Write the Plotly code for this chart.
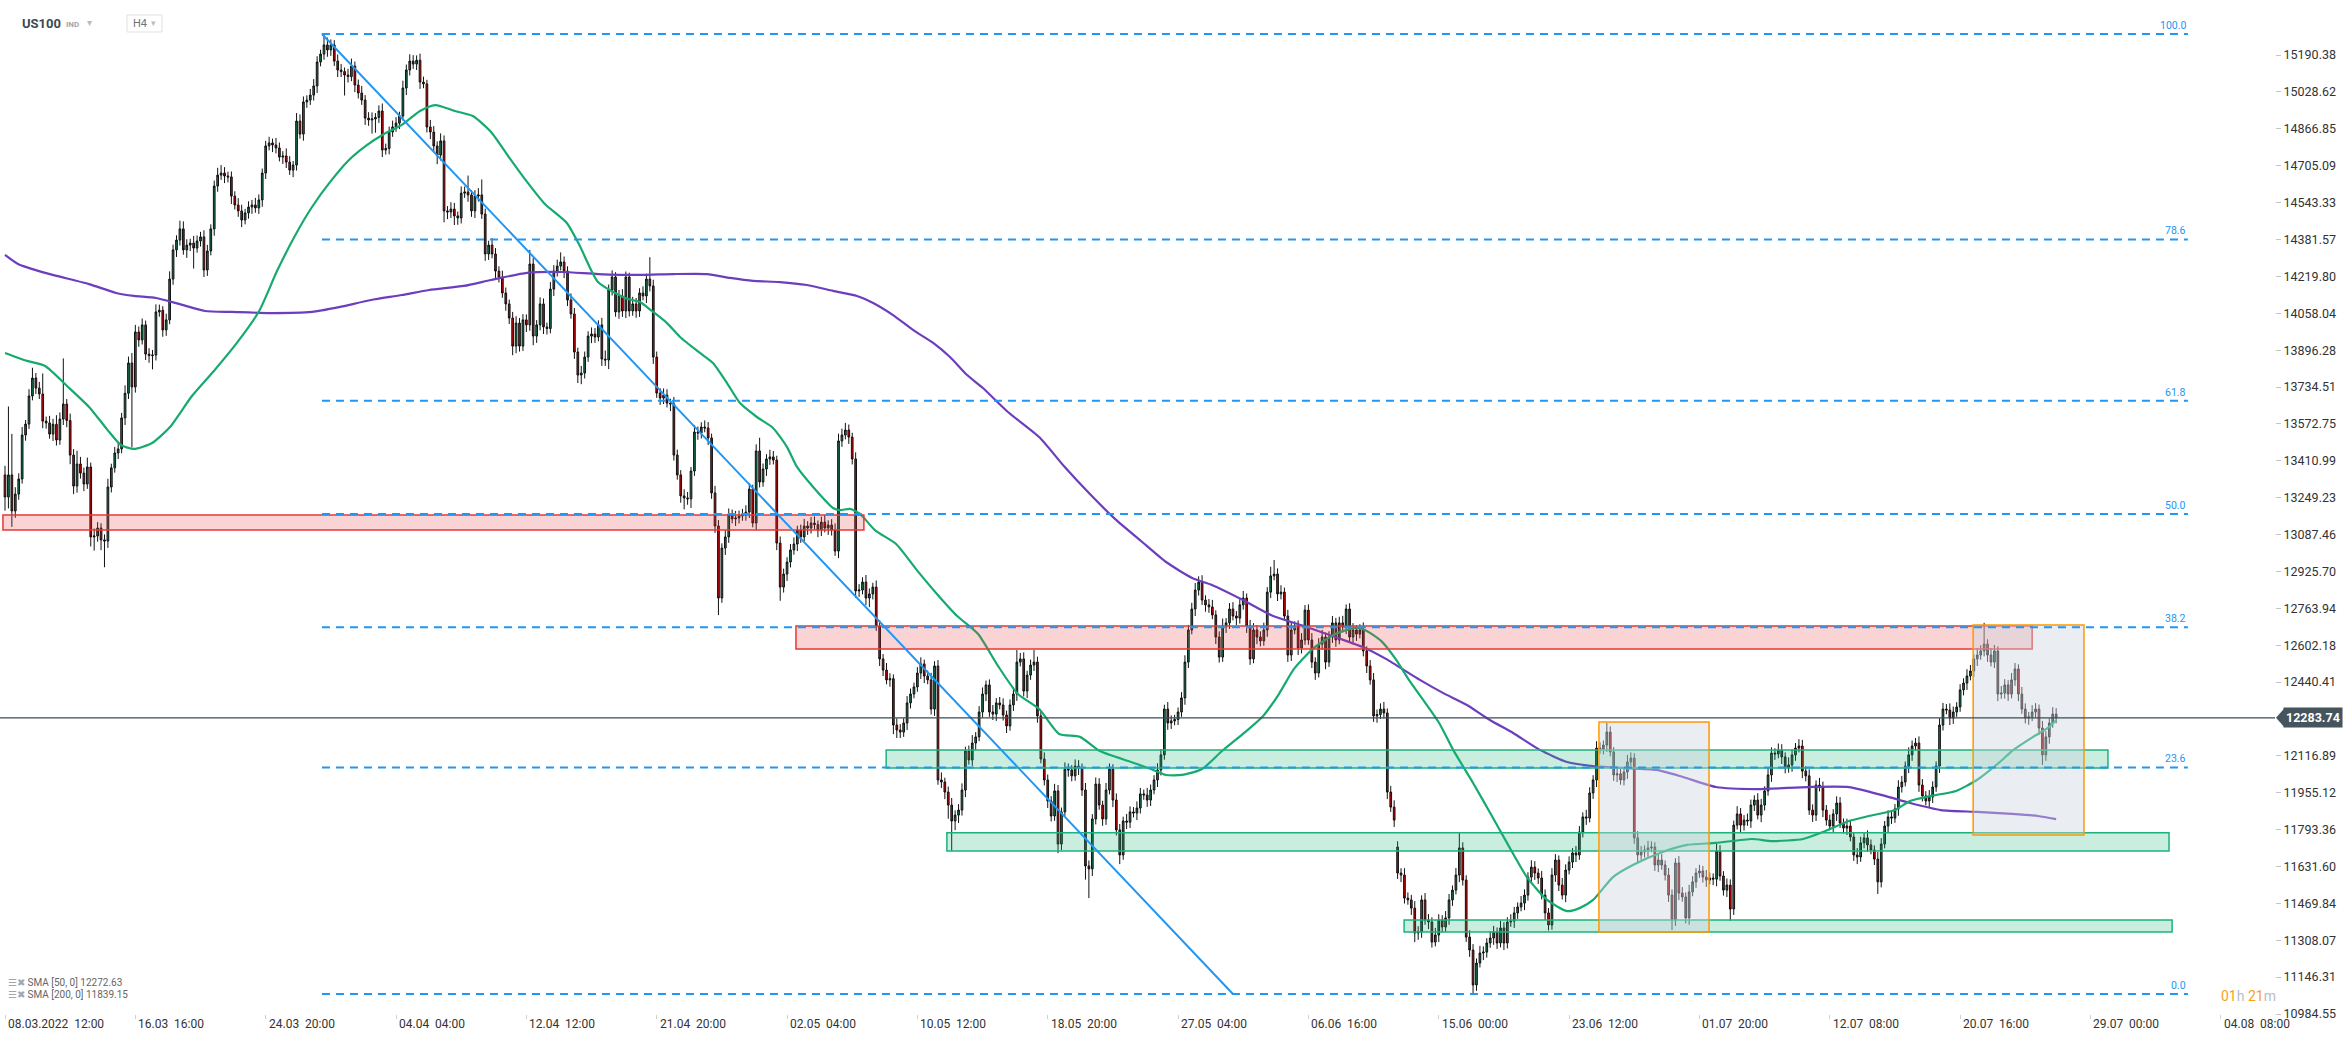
import plotly.graph_objects as go

# ---------------- data ----------------
# H4 closes, one per bar (bar 0 = 08.03.2022 12:00)
closes = [
    13252,13349,13191,13265,13331,13524,13572,13695,13774,13730,13704,13585,13577,13528,13571,13502,13594,13660,13588,13436,13300,13397,13357,13309,13384,13077,13081,13116,13064,13059,13296,13380,13445,13463,13599,13707,13840,13735,
    13976,13941,14007,13879,13872,13875,14064,14071,13985,14029,14208,14336,14379,14428,14336,14357,14366,14344,14375,14393,14248,14331,14428,14616,14664,14673,14660,14656,14572,14533,14507,14467,14498,14524,14533,14520,14555,14673,
    14792,14805,14796,14783,14743,14748,14721,14686,14708,14901,14844,14985,14993,15015,15055,15160,15195,15235,15213,15235,15164,15125,15118,15103,15096,15142,15059,15024,14993,14914,14906,14910,14917,14945,14774,14781,14853,14875,
    14892,14923,15046,15125,15164,15151,15168,15072,15064,14875,14853,14792,14752,14814,14507,14502,14515,14485,14476,14585,14590,14577,14507,14572,14577,14493,14318,14357,14318,14243,14217,14147,14099,14037,13914,14015,13914,14029,
    14007,14274,13958,14007,14099,13998,13991,14164,14243,14265,14283,14243,14116,14055,13888,13787,13796,13866,13958,13967,13954,14007,13857,13853,14160,14217,14064,14134,14068,14217,14068,14099,14068,14147,14134,14208,14178,13866,
    13708,13686,13699,13664,13660,13436,13349,13257,13248,13244,13366,13537,13533,13559,13555,13511,13270,13125,12809,13028,13077,13178,13156,13160,13169,13178,13186,13287,13138,13454,13318,13375,13419,13428,13414,13050,12857,12914,
    12967,13020,13046,13107,13077,13125,13116,13138,13131,13107,13142,13116,13129,13107,13015,13498,13524,13546,13515,13419,12840,12844,12879,12809,12827,12857,12686,12542,12493,12450,12455,12252,12230,12221,12261,12349,12388,12419,
    12480,12520,12467,12450,12322,12511,12011,12002,11958,11901,11831,11857,11879,11967,12138,12099,12173,12200,12309,12388,12428,12309,12300,12349,12340,12296,12248,12340,12388,12528,12542,12401,12471,12515,12528,12292,12103,12011,
    11919,11853,11963,11730,11871,12059,12055,12029,12072,12064,11967,11634,11621,11840,11993,11901,11840,11967,12059,11923,11792,11682,11831,11826,11871,11866,11888,11950,11945,11923,11967,12011,12055,12121,12322,12261,12270,12276,
    12309,12371,12528,12669,12761,12844,12879,12800,12779,12770,12735,12638,12550,12686,12700,12761,12730,12721,12779,12809,12686,12542,12669,12638,12621,12669,12835,12906,12914,12827,12835,12730,12559,12669,12686,12590,12625,12756,
    12625,12528,12480,12607,12638,12528,12638,12700,12625,12700,12682,12761,12638,12669,12651,12669,12577,12511,12450,12292,12298,12322,12305,11958,11892,11835,11603,11594,11493,11485,11449,11340,11345,11485,11397,11388,11300,11331,
    11397,11366,11406,11485,11528,11594,11713,11572,11322,11265,11112,11208,11252,11256,11296,11318,11344,11296,11362,11296,11388,11392,11428,11454,11471,11506,11585,11629,11603,11581,11506,11428,11375,11594,11660,11550,11506,11616,
    11651,11691,11682,11783,11849,11844,11954,12011,12151,12147,12164,12221,12134,12033,12038,12011,12046,12090,12107,11757,11682,11695,11704,11713,11717,11638,11660,11638,11594,11506,11397,11647,11515,11498,11406,11520,11564,11603,
    11612,11585,11572,11581,11576,11699,11590,11528,11550,11445,11813,11862,11813,11835,11831,11901,11923,11857,11901,11963,12033,12129,12125,12142,12112,12064,12077,12121,12151,12160,12050,12029,11879,11857,11989,11980,11879,11835,
    11809,11862,11910,11822,11800,11809,11761,11682,11673,11735,11757,11726,11704,11664,11564,11730,11809,11849,11844,11884,11980,12002,12072,12121,12160,12173,11989,11941,11919,11936,11980,12072,12252,12322,12318,12283,12309,12331,
    12406,12436,12467,12489,12542,12559,12577,12607,12559,12528,12577,12388,12392,12428,12388,12450,12498,12388,12322,12283,12288,12309,12322,12239,12121,12200,12261,12300,12283.74,
]
# upper / lower wick lengths (points beyond the body)
wick_up = [
    40,300,180,30,25,35,18,30,45,22,27,90,20,31,24,40,29,200,22,30,26,58,31,24,41,19,33,26,21,24,36,18,27,30,22,35,28,44,
    31,24,28,19,26,22,33,25,18,27,34,23,21,36,33,26,19,31,24,22,29,27,20,24,32,35,26,19,24,21,30,27,18,25,22,31,24,20,
    22,27,19,31,24,21,33,26,18,35,29,24,21,27,30,25,19,48,32,24,21,29,26,18,27,33,20,24,31,22,26,29,19,25,33,21,24,28,
    26,19,32,24,30,26,21,29,24,18,31,26,20,33,24,21,30,27,19,29,24,72,21,26,30,68,24,19,31,26,21,28,24,19,27,30,22,25,
    24,62,26,21,29,24,19,31,26,28,42,24,21,29,26,19,31,24,21,29,26,20,31,38,24,29,21,26,30,24,19,31,26,21,29,24,96,27,
    24,21,29,26,19,31,24,21,29,26,18,31,24,21,29,26,19,31,26,21,29,24,19,31,24,22,30,26,19,29,58,24,21,31,26,19,29,24,
    21,26,29,19,24,31,21,26,29,18,24,31,21,26,29,32,28,31,24,19,29,26,21,31,24,19,29,26,21,31,24,19,29,26,21,30,24,19,
    26,29,19,24,31,21,26,33,19,24,31,21,26,29,19,24,35,21,26,29,19,24,31,21,26,29,19,24,31,53,26,29,19,24,53,24,21,29,
    24,21,31,26,19,29,24,21,29,26,19,31,24,21,29,26,19,31,24,21,29,26,19,31,24,21,29,26,19,31,24,21,29,26,19,31,24,21,
    20,25,30,22,27,31,25,30,21,26,31,20,25,33,21,26,30,22,25,31,20,27,30,21,25,32,22,40,62,25,30,20,27,33,21,25,30,22,
    25,30,21,26,31,20,25,30,22,27,31,20,25,30,21,25,33,20,26,30,22,25,31,20,27,30,25,21,30,25,22,31,25,20,30,26,21,31,
    25,21,30,26,20,31,65,25,21,30,26,20,31,25,21,30,27,20,31,25,21,30,26,20,31,25,21,30,26,20,31,25,21,30,26,20,31,25,
    25,21,30,26,20,31,25,21,30,26,20,40,25,21,30,26,20,31,25,21,30,26,20,31,25,21,30,26,20,31,25,21,30,26,20,31,25,21,
    27,22,31,24,20,33,26,21,29,25,20,34,26,22,29,24,21,30,27,20,32,25,21,29,26,20,33,24,22,30,27,21,29,25,20,31,24,22,
    24,21,29,26,20,32,25,22,30,27,21,33,24,20,31,26,22,29,25,21,30,27,20,33,24,22,29,26,21,31,25,20,30,27,22,29,24,21,
    25,21,30,26,20,31,25,93,21,30,26,20,31,25,21,30,26,20,31,25,21,30,26,20,31,25,21,30,26,
]
wick_dn = [
    60,50,70,30,25,20,25,21,19,26,22,31,25,20,30,24,21,26,30,40,35,29,24,31,21,42,60,25,45,115,30,24,21,26,19,31,25,265,
    25,30,20,26,31,60,24,21,30,26,19,25,31,24,21,35,26,90,20,24,31,26,19,30,25,21,31,24,35,20,26,31,19,25,30,21,26,30,
    26,20,31,24,19,30,26,21,31,24,20,29,26,21,24,31,19,25,30,26,21,31,24,90,26,20,31,24,21,30,26,60,60,24,31,20,26,21,
    21,26,19,31,24,21,26,30,19,24,31,26,40,24,50,31,26,40,30,24,21,30,26,31,24,21,30,26,19,31,24,21,30,26,40,31,24,21,
    31,26,40,30,24,31,26,21,30,24,19,31,26,21,30,35,40,24,21,31,26,19,30,26,40,24,21,30,26,31,24,21,30,26,19,31,24,30,
    21,30,26,19,31,24,21,30,50,26,40,21,30,24,19,31,26,30,75,21,30,26,19,31,24,21,30,26,19,31,24,21,30,26,19,31,60,24,
    30,24,21,31,26,19,30,24,21,31,26,19,30,24,21,31,26,19,30,24,30,26,19,31,40,24,21,31,26,19,30,40,35,26,21,31,24,19,
    21,26,31,19,24,30,21,26,31,60,130,40,35,24,31,21,26,30,19,24,31,21,26,30,19,24,31,21,26,30,19,24,31,21,26,30,19,24,
    31,24,21,40,26,19,30,24,21,31,26,60,128,31,24,21,30,26,19,31,24,40,21,30,26,19,31,24,21,30,26,19,31,24,21,30,26,19,
    24,21,30,26,19,31,24,21,30,26,19,31,24,21,30,26,19,31,24,21,30,26,19,31,24,21,30,26,19,31,24,21,30,26,19,31,24,21,
    21,26,30,19,24,31,21,26,30,19,24,31,21,26,30,19,24,31,21,26,30,19,24,31,21,30,26,31,24,21,30,40,30,26,21,31,24,19,
    31,24,21,30,26,19,31,24,21,30,40,26,19,31,24,21,30,26,19,31,24,21,30,26,19,31,24,21,30,26,19,31,24,21,30,26,19,31,
    19,26,31,21,24,30,19,26,31,21,24,30,19,26,31,21,24,30,19,26,31,21,24,30,19,26,31,21,24,30,44,26,31,21,24,30,19,26,
    21,24,30,19,26,31,21,24,30,52,26,19,31,24,21,30,26,19,31,24,21,30,26,19,31,24,21,30,26,19,31,24,21,30,26,19,31,24,
    19,26,31,21,24,30,19,26,31,21,24,30,19,26,53,24,19,31,26,21,30,24,19,31,26,21,30,24,19,31,26,21,30,24,19,31,26,21,
    21,24,30,19,26,31,21,24,30,19,26,31,21,24,30,19,26,31,21,24,30,19,26,31,44,26,30,21,24,
]
first_open = 13349
gap_opens = {406: 11717}

# SMA lines (bar position, value)
sma50_bar = [0,6.4,11.7,18.1,24.5,29.7,33.8,37.6,42.9,48.1,54.5,60.9,67.6,74.1,79.3,84.5,89.5,94.8,100,105.2,
             110.5,115.7,121,125.4,131.2,136.4,141.7,146.9,152.2,157.4,163.8,167.6,172.9,180.8,185.1,188.6,193,196.8,202.6,206.4,
             210.5,214.3,219.2,223.9,228,230.9,235.6,241.4,243.4,246.4,249.3,253.6,259.8,265.6,271.7,277.6,283.7,289.5,295.3,301.5,
             307.3,313.4,319.2,328.3,334.1,338.5,343.1,349,354.8,360.9,366.8,371.4,375.8,381.6,387.8,393.6,396.5,401.2,405.4,409.3,
             418.1,422.2,428,433,437.9,443.7,449.6,455.4,459.2,463,468.8,474.6,482.5,490.4,498.8,509.3,515.2,524.2,530,537.6,
             543.4,551,555.4,561.5,568.8,574.9,581.6,585.1,591.3,595.6,598]
sma50_val = [13884,13849,13827,13739,13647,13550,13480,13463,13489,13559,13695,13805,13928,14068,14243,14397,14524,14634,14726,14792,
             14844,14884,14945,14971,14945,14923,14853,14743,14634,14537,14454,14353,14195,14125,14107,14068,14015,13954,13884,13840,
             13752,13664,13603,13555,13471,13384,13296,13204,13195,13200,13178,13107,13046,12936,12827,12730,12651,12511,12388,12322,
             12213,12200,12138,12090,12059,12033,12033,12059,12138,12213,12292,12388,12498,12590,12651,12678,12669,12621,12542,12450,
             12261,12143,11998,11866,11735,11585,11485,11436,11450,11485,11585,11638,11691,11726,11735,11752,11743,11752,11783,11831,
             11853,11879,11919,11941,11963,12011,12090,12138,12200,12239,12272.63]
sma200_bar = [0,3.8,11.7,24.5,32.4,37.6,44,50.7,58.3,66.2,76.7,89.5,97.4,106.7,115.7,123.6,133.8,141.7,152.2,162.4,
              172.9,185.1,194.8,204.7,211.4,218.1,225.9,233.8,241.4,248.4,253.1,258.9,264.7,270.6,275.5,280.5,285.1,292.4,301.5,308.7,
              316.3,323.6,331.2,338.5,346.1,351.9,360.9,369.7,378.7,387.8,396.5,402.6,412.5,419.2,426.2,432.9,439.7,447.5,455.4,462.9,
              471.6,481.5,489.2,498.8,510.8,525.7,537.6,548.1,555.4,564.4,574.9,585.1,592.7,598]
sma200_val = [14314,14274,14235,14186,14147,14134,14125,14099,14068,14064,14059,14064,14085,14116,14138,14160,14178,14204,14235,14239,
              14230,14226,14230,14230,14213,14200,14195,14182,14156,14134,14103,14050,13985,13928,13866,13787,13730,13625,13515,13388,
              13265,13156,13059,12967,12897,12866,12800,12730,12686,12638,12590,12542,12450,12393,12340,12274,12217,12143,12090,12072,
              12064,12055,12024,11980,11971,11980,11980,11941,11910,11879,11871,11862,11853,11839.15]

tick_bars = [0, 38, 76, 114, 152, 190, 228, 266, 304, 342, 380, 418, 456, 494, 532, 570, 608, 646]
tick_labels = ["08.03.2022  12:00", "16.03  16:00", "24.03  20:00", "04.04  04:00", "12.04  12:00",
               "21.04  20:00", "02.05  04:00", "10.05  12:00", "18.05  20:00", "27.05  04:00",
               "06.06  16:00", "15.06  00:00", "23.06  12:00", "01.07  20:00", "12.07  08:00",
               "20.07  16:00", "29.07  00:00", "04.08  08:00"]
y_ticks = [15190.38, 15028.62, 14866.85, 14705.09, 14543.33, 14381.57, 14219.80, 14058.04, 13896.28,
           13734.51, 13572.75, 13410.99, 13249.23, 13087.46, 12925.70, 12763.94, 12602.18, 12440.41,
           12116.89, 11955.12, 11793.36, 11631.60, 11469.84, 11308.07, 11146.31, 10984.55]

last_price = 12283.74
sma50_last = 12272.63
sma200_last = 11839.15

fib_high = 15283
fib_low = 11072
fib_levels = [100.0, 78.6, 61.8, 50.0, 38.2, 23.6, 0.0]
fib_bar_start = 92.4
fib_bar_end = 636.4
trend_from = (92.4, 15283)
trend_to = (358.0, 11072)

# zones: kind, bar from, bar to, price low, price high
zones = [
    ("red", -0.6, 250.4, 13107, 13173),
    ("red", 230.6, 591.0, 12585, 12686),
    ("green", 256.9, 613.1, 12064, 12143),
    ("green", 274.6, 630.9, 11699, 11779),
    ("green", 407.9, 631.8, 11344, 11397),
    ("grey", 464.7, 496.8, 11344, 12265),
    ("grey", 573.8, 606.1, 11770, 12691),
]

# ---------------- build ----------------
n = len(closes)
bars = list(range(n))
opens, highs, lows = [], [], []
for i, c in enumerate(closes):
    if i == 0:
        o = first_open
    elif i in gap_opens:
        o = gap_opens[i]
    else:
        o = closes[i - 1]
    wu = wick_up[i] if i < len(wick_up) else 20
    wd = wick_dn[i] if i < len(wick_dn) else 20
    opens.append(o)
    highs.append(max(o, c) + wu)
    lows.append(min(o, c) - wd)

W, H = 2346, 1039
ML, MR, MT, MB = 0, 71, 0, 25
PW, PH = W - ML - MR, H - MT - MB
X_RANGE = [-1.458, 661.8]
Y_RANGE = [10984.55, 15432.0]
FONT = "Roboto, 'Open Sans', sans-serif"


def px(x):
    return x / PW


def py(y):
    return 1 - y / PH


fig = go.Figure()
fig.add_trace(go.Candlestick(
    x=bars, open=opens, high=highs, low=lows, close=closes,
    increasing=dict(line=dict(color="#111111", width=1), fillcolor="#107a52"),
    decreasing=dict(line=dict(color="#111111", width=1), fillcolor="#d40000"),
    whiskerwidth=0, hoverinfo="skip", showlegend=False,
))
fig.add_trace(go.Scatter(x=sma200_bar, y=sma200_val, mode="lines",
                         line=dict(color="#6c3ebe", width=2.2, shape="spline", smoothing=0.6),
                         hoverinfo="skip", showlegend=False))
fig.add_trace(go.Scatter(x=sma50_bar, y=sma50_val, mode="lines",
                         line=dict(color="#16aa6e", width=2.2, shape="spline", smoothing=0.6),
                         hoverinfo="skip", showlegend=False))

shapes = []
annotations = []

zone_style = {
    "red": dict(fill="rgba(235,70,70,0.23)", line="#e53935"),
    "green": dict(fill="rgba(30,180,120,0.24)", line="#1bb37b"),
    "grey": dict(fill="rgba(205,212,222,0.42)", line="#ff9800"),
}
for kind, b0, b1, p0, p1 in zones:
    st = zone_style[kind]
    shapes.append(dict(type="rect", xref="x", yref="y", x0=b0, x1=b1, y0=p0, y1=p1,
                       fillcolor=st["fill"], line=dict(color=st["line"], width=1.5), layer="above"))

for lv in fib_levels:
    price = fib_low + (fib_high - fib_low) * lv / 100.0
    shapes.append(dict(type="line", xref="x", yref="y", x0=fib_bar_start, x1=fib_bar_end, y0=price, y1=price,
                       line=dict(color="#2196f3", width=2, dash="8px,6px"), layer="above"))
    annotations.append(dict(x=fib_bar_end, y=price, xref="x", yref="y", text=f"{lv:.1f}", showarrow=False,
                            xanchor="right", yanchor="bottom", yshift=0,
                            font=dict(family=FONT, size=10.5, color="#2196f3")))

shapes.append(dict(type="line", xref="x", yref="y", x0=trend_from[0], y0=trend_from[1], x1=trend_to[0], y1=trend_to[1],
                   line=dict(color="#2196f3", width=2), layer="above"))

# current price line and label
shapes.append(dict(type="line", xref="paper", yref="y", x0=0, x1=1, y0=last_price, y1=last_price,
                   line=dict(color="#3d4b55", width=1.2), layer="above"))
lp_paper = (last_price - Y_RANGE[0]) / (Y_RANGE[1] - Y_RANGE[0])
shapes.append(dict(type="path", xref="paper", yref="paper", xsizemode="pixel", ysizemode="pixel",
                   xanchor=1.0, yanchor=lp_paper, path="M 1,0 L 9,9 L 9,-9 Z",
                   fillcolor="#46545e", line=dict(width=0), layer="above"))
annotations.append(dict(x=1, y=last_price, xref="paper", yref="y", xanchor="left", xshift=8,
                        text=f"<b>{last_price:.2f}</b>", showarrow=False, bgcolor="#46545e", borderpad=2,
                        font=dict(family=FONT, size=12.5, color="white")))

# x labels
for b, lab in zip(tick_bars, tick_labels):
    annotations.append(dict(x=b, y=0, xref="x", yref="paper", xanchor="left", yanchor="top", xshift=1, yshift=-1,
                            text=lab.replace("  ", " \u00a0"), showarrow=False,
                            font=dict(family=FONT, size=12, color="#333333")))

# header
annotations += [
    dict(x=px(20), y=py(23), xref="paper", yref="paper", xanchor="left", yanchor="middle", text="<b>US100</b>",
         showarrow=False, font=dict(family=FONT, size=13, color="#3d4852")),
    dict(x=px(64), y=py(24), xref="paper", yref="paper", xanchor="left", yanchor="middle", text="<b>IND</b>",
         showarrow=False, font=dict(family=FONT, size=8, color="#a0a6ad")),
    dict(x=px(85), y=py(22), xref="paper", yref="paper", xanchor="left", yanchor="middle", text="▾",
         showarrow=False, font=dict(family="DejaVu Sans", size=10, color="#b8bcc0")),
    dict(x=px(131), y=py(23), xref="paper", yref="paper", xanchor="left", yanchor="middle", text="H4",
         showarrow=False, font=dict(family=FONT, size=11, color="#6b747c")),
    dict(x=px(149), y=py(23), xref="paper", yref="paper", xanchor="left", yanchor="middle", text="▾",
         showarrow=False, font=dict(family="DejaVu Sans", size=9, color="#b8bcc0")),
]
shapes.append(dict(type="rect", xref="paper", yref="paper", x0=px(127), x1=px(162), y0=py(15), y1=py(32),
                   line=dict(color="#dde1e5", width=1), fillcolor="rgba(255,255,255,0)", layer="above"))

# indicator legend
for row, (per, val) in enumerate([(50, sma50_last), (200, sma200_last)]):
    annotations.append(dict(x=px(6), y=py(982 + 12 * row), xref="paper", yref="paper", xanchor="left",
                            yanchor="middle", showarrow=False,
                            text=f"<span style='color:#a2a7ad'>☰✖</span> SMA [{per}, 0] {val:.2f}",
                            font=dict(family=FONT, size=10, color="#666666")))

# countdown
annotations.append(dict(x=px(2219), y=py(996), xref="paper", yref="paper", xanchor="left", yanchor="middle",
                        showarrow=False,
                        text="<span style='color:#f7a21b'>01</span><span style='color:#b9bec4'>h</span> "
                             "<span style='color:#f7a21b'>21</span><span style='color:#b9bec4'>m</span>",
                        font=dict(family=FONT, size=14)))

fig.update_layout(
    width=W, height=H, margin=dict(l=ML, r=MR, t=MT, b=MB),
    plot_bgcolor="white", paper_bgcolor="white", showlegend=False, hovermode=False,
    font=dict(family=FONT, size=12, color="#333333"),
    shapes=shapes, annotations=annotations,
    xaxis=dict(range=X_RANGE, showgrid=False, zeroline=False, showline=False,
               tickvals=tick_bars, ticks="outside", ticklen=4, tickcolor="#cfcfcf",
               showticklabels=False, rangeslider=dict(visible=False), fixedrange=True),
    yaxis=dict(range=Y_RANGE, side="right", showgrid=False, zeroline=False, showline=False,
               tickvals=y_ticks, ticktext=[f"{v:.2f}" for v in y_ticks], ticks="outside", ticklen=5,
               tickcolor="#c4c4c4", tickfont=dict(family=FONT, size=12.5, color="#333333"), fixedrange=True),
)

fig.write_html(
    "out.html",
    config={"displayModeBar": False},
    post_script="document.body.style.margin='0';document.body.style.overflow='hidden';",
)
